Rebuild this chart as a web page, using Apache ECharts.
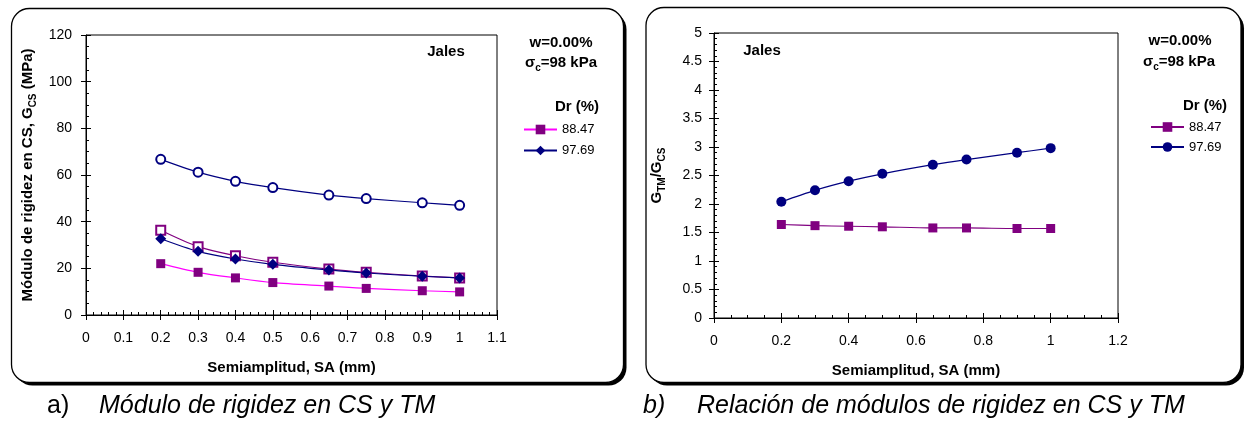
<!DOCTYPE html>
<html><head><meta charset="utf-8">
<script src="https://cdn.jsdelivr.net/npm/echarts@6/dist/echarts.min.js"></script>
<style>html,body{margin:0;padding:0;background:#fff}#c{width:1254px;height:421px}</style>
</head><body><div id="c"></div>
<script>
// ---- data ----
const sa = [0.2, 0.3, 0.4, 0.5, 0.65, 0.75, 0.9, 1.0];
const gcs8847 = [22.0, 18.3, 15.9, 13.9, 12.4, 11.4, 10.4, 9.9];
const gcs9769 = [32.7, 27.3, 24.0, 21.7, 19.3, 18.0, 16.6, 15.9];
const gtm8847 = [36.3, 29.3, 25.4, 22.6, 19.7, 18.3, 16.7, 15.9];
const gtm9769 = [66.7, 61.2, 57.3, 54.6, 51.4, 49.9, 48.1, 47.0];
const ratio8847 = [1.64, 1.62, 1.61, 1.60, 1.58, 1.58, 1.57, 1.57];
const ratio9769 = [2.04, 2.24, 2.40, 2.53, 2.69, 2.78, 2.90, 2.98];
const legendNames = ['88.47', '97.69'];
const xRangeA = [0, 1.1, 0.1];
const yRangeA = [0, 120, 20];
const xRangeB = [0, 1.2, 0.2];
const yRangeB = [0, 5, 0.5];

const FF = 'Arial, "Liberation Sans", sans-serif';
const NAVY = '#000080', PURPLE = '#800080', MAGENTA = '#FF00FF';
const pairs = arr => sa.map((x, i) => [x, arr[i]]);

function axisPair(grid, range, minorSplit, margin, extra, isY) {
  const primary = Object.assign({
    type: 'value', gridIndex: grid, min: range[0], max: range[1], interval: range[2],
    position: isY ? 'left' : 'bottom',
    axisLine: {show: true, lineStyle: {color: '#000', width: 1}},
    axisTick: {show: true, inside: false, length: 5, lineStyle: {color: '#000'}},
    axisLabel: {color: '#000', fontSize: 14, fontFamily: FF, margin: margin},
    splitLine: {show: false}
  }, extra || {});
  const secondary = {
    type: 'value', gridIndex: grid, min: range[0], max: range[1], interval: range[2],
    position: isY ? 'left' : 'bottom', offset: 0,
    axisLine: {show: false},
    axisTick: {show: true, inside: true, length: 5, lineStyle: {color: '#000'}},
    minorTick: {show: true, splitNumber: minorSplit, length: 3, lineStyle: {color: '#000'}},
    axisLabel: {show: false}, splitLine: {show: false}
  };
  return [primary, secondary];
}

const boldRich = {
  a: {fontFamily: FF, fontSize: 15, fontWeight: 'bold', color: '#000', lineHeight: 20},
  s: {fontFamily: FF, fontSize: 10, fontWeight: 'bold', color: '#000', lineHeight: 20, verticalAlign: 'bottom'}
};

const xA = axisPair(0, xRangeA, 5, 16, {
  name: 'Semiamplitud, SA (mm)', nameLocation: 'middle', nameGap: 45,
  nameTextStyle: {fontFamily: FF, fontSize: 15, fontWeight: 'bold', color: '#000'}
}, false);
const yA = axisPair(0, yRangeA, 4, 14, {
  name: '{a|Módulo de rigidez en CS, G}{s|CS}{a| (MPa)}', nameLocation: 'middle', nameGap: 48,
  nameTextStyle: {rich: boldRich}
}, true);
const xB = axisPair(1, xRangeB, 4, 16, {
  name: 'Semiamplitud, SA (mm)', nameLocation: 'middle', nameGap: 45,
  nameTextStyle: {fontFamily: FF, fontSize: 15, fontWeight: 'bold', color: '#000'}
}, false);
const yB = axisPair(1, yRangeB, 5, 12, {
  name: '{a|G}{s|TM}{a|/G}{s|CS}', nameLocation: 'middle', nameGap: 47,
  nameTextStyle: {rich: boldRich}
}, true);

function lineSeries(name, xi, yi, data, symbol, size, symColor, lineColor, empty) {
  return {
    name: name, type: 'line', xAxisIndex: xi, yAxisIndex: yi, data: data,
    smooth: 0.3, symbol: symbol, symbolSize: size, showSymbol: true,
    lineStyle: {color: lineColor, width: 1.2},
    itemStyle: empty ? {color: symColor, borderColor: symColor, borderWidth: 1.5}
                     : {color: symColor, borderColor: symColor, borderWidth: 0},
    emphasis: {disabled: true}, animation: false, z: 3
  };
}

function txt(x, y, text, opts) {
  return {type: 'text', x: x, y: y, z: 100, style: Object.assign({
    text: text, fill: '#000', font: 'bold 15px ' + FF, align: 'center', verticalAlign: 'middle'
  }, opts || {})};
}
const sigma = (x, y) => Object.assign(txt(x, 0, '{a|σ}{s|c}{a|=98 kPa}', {rich: boldRich}), {y: y});

function panel(x, y, w, h) {
  return [
    {type: 'rect', z: -20, shape: {x: x + 3, y: y + 3, width: w, height: h, r: 18}, style: {fill: '#000'}},
    {type: 'rect', z: -10, shape: {x: x, y: y, width: w, height: h, r: 18}, style: {fill: '#fff', stroke: '#000', lineWidth: 1.3}}
  ];
}

const option = {
  backgroundColor: '#fff',
  animation: false,
  grid: [
    {left: 86, top: 35, width: 411, height: 280, show: true, borderColor: '#000', borderWidth: 1, backgroundColor: 'transparent'},
    {left: 714, top: 33, width: 404, height: 285, show: true, borderColor: '#000', borderWidth: 1, backgroundColor: 'transparent'}
  ],
  xAxis: [xA[0], xA[1], xB[0], xB[1]],
  yAxis: [yA[0], yA[1], yB[0], yB[1]],
  legend: [
    {left: 523, top: 123, orient: 'vertical', data: legendNames, itemWidth: 33, itemHeight: 12, itemGap: 8, padding: 0,
     selectedMode: false, textStyle: {fontFamily: FF, fontSize: 13, color: '#000'}},
    {left: 1150, top: 120.5, orient: 'vertical', data: legendNames.map(n => 'b' + n), formatter: n => n.slice(1),
     itemWidth: 33, itemHeight: 12, itemGap: 7, padding: 0,
     selectedMode: false, textStyle: {fontFamily: FF, fontSize: 13, color: '#000'}}
  ],
  series: [
    lineSeries('tm9769', 0, 0, pairs(gtm9769), 'emptyCircle', 9, NAVY, NAVY, true),
    lineSeries('tm8847', 0, 0, pairs(gtm8847), 'emptyRect', 9, PURPLE, PURPLE, true),
    lineSeries('97.69', 0, 0, pairs(gcs9769), 'diamond', 11, NAVY, NAVY, false),
    lineSeries('88.47', 0, 0, pairs(gcs8847), 'rect', 9, PURPLE, MAGENTA, false),
    lineSeries('b88.47', 2, 2, pairs(ratio8847), 'rect', 9, PURPLE, PURPLE, false),
    lineSeries('b97.69', 2, 2, pairs(ratio9769), 'circle', 10, NAVY, NAVY, false)
  ],
  graphic: [].concat(
    panel(11.5, 8.5, 612, 374),
    panel(646, 7.5, 595, 375),
    [
      txt(446, 52, 'Jales'),
      txt(561, 43, 'w=0.00%'),
      sigma(561, 63),
      txt(577, 107, 'Dr (%)'),
      txt(762, 51, 'Jales'),
      txt(1180, 41, 'w=0.00%'),
      sigma(1179, 62),
      txt(1205, 106, 'Dr (%)'),
      txt(47, 406, 'a)', {font: '25px ' + FF, align: 'left'}),
      txt(99, 406, 'Módulo de rigidez en CS y TM', {font: 'italic 25px ' + FF, align: 'left'}),
      txt(643, 406, 'b)', {font: 'italic 25px ' + FF, align: 'left'}),
      txt(697, 406, 'Relación de módulos de rigidez en CS y TM', {font: 'italic 25px ' + FF, align: 'left'})
    ]
  )
};
const chart = echarts.init(document.getElementById('c'), null, {renderer: 'canvas'});
chart.setOption(option);
</script></body></html>
